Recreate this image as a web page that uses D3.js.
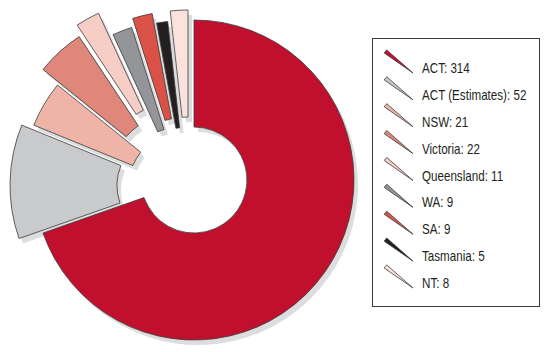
<!DOCTYPE html>
<html>
<head>
<meta charset="utf-8">
<script src="https://cdn.jsdelivr.net/npm/d3@7"></script>
<style>
  html, body { margin: 0; padding: 0; background: #ffffff; }
  svg { display: block; }
  .legend-text { font-family: "Liberation Sans", Arial, sans-serif; font-size: 14px; fill: #231f20; }
</style>
</head>
<body>
<svg id="chart" width="549" height="352"></svg>
<script>
// ---- data ----
const categories = ["ACT", "ACT (Estimates)", "NSW", "Victoria", "Queensland", "WA", "SA", "Tasmania", "NT"];
const values = [314, 52, 21, 22, 11, 9, 9, 5, 8];
const colors = ["#c1102e", "#c9cacc", "#efb4a8", "#e0877b", "#f6cec6", "#939598", "#da5148", "#231f20", "#fbe2dc"];

// ---- layout ----
const cx = 194, cy = 180;
const innerR = 53, outerR = 160;
// per-slice explosion offset (pixels) as laid out in the original graphic
const explode = [[0, 0], [-24, 5.5], [-12, 5.5], [-26.5, -10], [-28.5, -21.5], [-14, 0], [-13, -9], [-8.5, 0.5], [-6, -10]];
const shadowDx = 4, shadowDy = 5;

const data = categories.map((c, i) => ({ name: c, value: values[i], color: colors[i], off: explode[i] }));

const svg = d3.select("#chart");
const pie = d3.pie().sort(null).value(d => d.value).startAngle(0).endAngle(2 * Math.PI);
const arc = d3.arc().innerRadius(innerR).outerRadius(outerR);
const arcs = pie(data);

const g = svg.append("g").attr("transform", `translate(${cx},${cy})`);

// shadows
g.selectAll("path.shadow").data(arcs).enter().append("path")
  .attr("class", "shadow")
  .attr("d", arc)
  .attr("fill", "#dcddde")
  .attr("transform", d => `translate(${d.data.off[0] + shadowDx},${d.data.off[1] + shadowDy})`);

// slices
g.selectAll("path.slice").data(arcs).enter().append("path")
  .attr("class", "slice")
  .attr("d", arc)
  .attr("fill", d => d.data.color)
  .attr("stroke", "#3a3a3a")
  .attr("stroke-width", 0.8)
  .attr("transform", d => `translate(${d.data.off[0]},${d.data.off[1]})`);

// ---- legend ----
const legendX = 372, legendY = 38, legendW = 167, legendH = 268;
svg.append("rect")
  .attr("x", legendX + 0.5).attr("y", legendY + 0.5)
  .attr("width", legendW).attr("height", legendH)
  .attr("fill", "#ffffff").attr("stroke", "#3a3a3a").attr("stroke-width", 1);

const rowY = d3.scalePoint().domain(categories).range([68, 283]);
const symArc = d3.arc().innerRadius(0).outerRadius(35);
const symDir = -52 * Math.PI / 180, symHalf = 3.3 * Math.PI / 180;

const rows = svg.selectAll("g.row").data(data).enter().append("g")
  .attr("class", "row")
  .attr("transform", d => `translate(0,${rowY(d.name)})`);

rows.append("path")
  .attr("d", symArc({ startAngle: symDir - symHalf, endAngle: symDir + symHalf }))
  .attr("transform", "translate(413,5)")
  .attr("fill", d => d.color)
  .attr("stroke", "#3a3a3a")
  .attr("stroke-width", 0.8);

rows.append("text")
  .attr("class", "legend-text")
  .attr("transform", "translate(422,5) scale(0.83,1)")
  .text(d => `${d.name}: ${d.value}`);
</script>
</body>
</html>
